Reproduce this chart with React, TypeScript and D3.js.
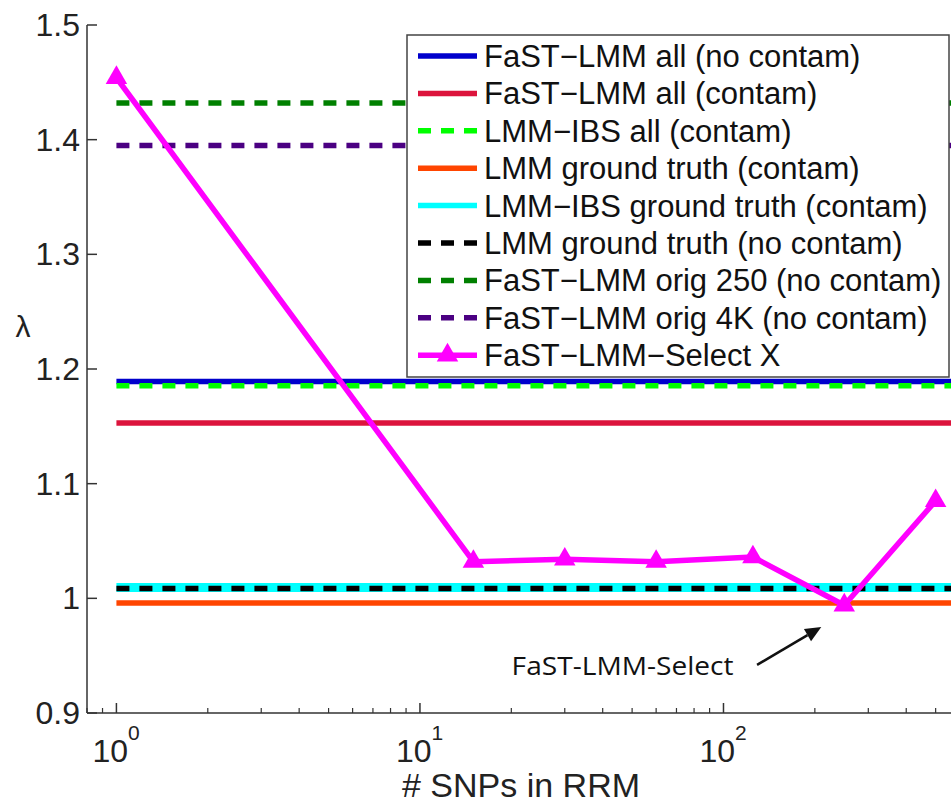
import React, { useEffect, useRef } from 'react';
import * as d3 from 'd3';

// reference lines (constant lambda), in legend order
const refNames = [
  'FaST−LMM all (no contam)',
  'FaST−LMM all (contam)',
  'LMM−IBS all (contam)',
  'LMM ground truth (contam)',
  'LMM−IBS ground truth (contam)',
  'LMM ground truth (no contam)',
  'FaST−LMM orig 250 (no contam)',
  'FaST−LMM orig 4K (no contam)',
];
const refValues = [1.189, 1.153, 1.1855, 0.996, 1.0095, 1.0085, 1.432, 1.395];
const refColors = ['#0000CC', '#DC143C', '#00FF00', '#FF4500', '#00FFFF', '#000000', '#008000', '#4B0082'];
const refDashed = [false, false, true, false, false, true, true, true];

// FaST-LMM-Select X
const selectName = 'FaST−LMM−Select X';
const snps = [1, 15, 30, 60, 125, 250, 500];
const lambdas = [1.454, 1.032, 1.034, 1.032, 1.036, 0.994, 1.085];

const yTicks = [0.9, 1, 1.1, 1.2, 1.3, 1.4, 1.5];
const xMajor = [1, 10, 100];

const App = () => {
  const svgRef = useRef<SVGSVGElement>(null);

  useEffect(() => {
    const width = 951;
    const height = 803;
    const svg = d3.select(svgRef.current);
    svg.selectAll('*').remove();

    const x = d3.scaleLog().domain([0.8, 700]).range([87, 980]);
    const y = d3.scaleLinear().domain([0.9, 1.5]).range([713, 25]);
    const font = 'Liberation Sans, Arial, sans-serif';

    // axes (left + bottom only, ticks inward)
    const axisColor = '#333';
    svg.append('line')
      .attr('x1', x(0.8)).attr('x2', x(0.8))
      .attr('y1', y(0.9)).attr('y2', y(1.5))
      .attr('stroke', axisColor).attr('stroke-width', 1.5);
    svg.append('line')
      .attr('x1', x(0.8)).attr('x2', width)
      .attr('y1', y(0.9)).attr('y2', y(0.9))
      .attr('stroke', axisColor).attr('stroke-width', 1.5);

    yTicks.forEach(t => {
      svg.append('line')
        .attr('x1', x(0.8)).attr('x2', x(0.8) + 10)
        .attr('y1', y(t)).attr('y2', y(t))
        .attr('stroke', axisColor).attr('stroke-width', 1.5);
      svg.append('text')
        .attr('x', x(0.8) - 7).attr('y', y(t) + 11)
        .attr('text-anchor', 'end')
        .attr('font-family', font).attr('font-size', 32)
        .attr('fill', '#222')
        .text(d3.format('~g')(t));
    });

    // x minor + major ticks
    const minor: number[] = [];
    [0.1, 1, 10, 100].forEach(dec => {
      for (let k = 2; k <= 9; k++) {
        const v = k * dec;
        if (v >= 0.8 && v <= 700) minor.push(v);
      }
    });
    minor.forEach(v => {
      svg.append('line')
        .attr('x1', x(v)).attr('x2', x(v))
        .attr('y1', y(0.9)).attr('y2', y(0.9) - 5)
        .attr('stroke', axisColor).attr('stroke-width', 1.2);
    });
    xMajor.forEach((v, i) => {
      svg.append('line')
        .attr('x1', x(v)).attr('x2', x(v))
        .attr('y1', y(0.9)).attr('y2', y(0.9) - 10)
        .attr('stroke', axisColor).attr('stroke-width', 1.5);
      const t = svg.append('text')
        .attr('x', x(v) - 24).attr('y', 762)
        .attr('font-family', font).attr('font-size', 32)
        .attr('fill', '#222');
      t.append('tspan').text('10');
      t.append('tspan').attr('dy', -22).attr('font-size', 21).text(String(i));
    });

    // axis labels
    svg.append('text')
      .attr('x', 521).attr('y', 797)
      .attr('text-anchor', 'middle')
      .attr('font-family', font).attr('font-size', 34)
      .attr('fill', '#222')
      .text('# SNPs in RRM');
    svg.append('text')
      .attr('x', 23).attr('y', 337)
      .attr('text-anchor', 'middle')
      .attr('font-family', font).attr('font-size', 30)
      .attr('fill', '#222')
      .text('λ');

    // constant reference lines
    refValues.forEach((v, i) => {
      svg.append('line')
        .attr('x1', x(1)).attr('x2', x(700))
        .attr('y1', y(v)).attr('y2', y(v))
        .attr('stroke', refColors[i])
        .attr('stroke-width', i === 4 ? 9 : 5.5)
        .attr('stroke-dasharray', refDashed[i] ? '13,10' : null);
    });

    // select X line
    const pts = snps.map((s, i) => [s, lambdas[i]] as [number, number]);
    const line = d3.line<[number, number]>().x(d => x(d[0])).y(d => y(d[1]));
    svg.append('path')
      .attr('d', line(pts))
      .attr('fill', 'none')
      .attr('stroke', '#FF00FF')
      .attr('stroke-width', 5.5)
      .attr('stroke-linejoin', 'round');
    const tri = d3.symbol().type(d3.symbolTriangle).size(200);
    svg.selectAll('.tri')
      .data(pts)
      .enter()
      .append('path')
      .attr('transform', d => `translate(${x(d[0])},${y(d[1])})`)
      .attr('d', tri())
      .attr('fill', '#FF00FF');

    // annotation
    svg.append('text')
      .attr('x', x(108)).attr('y', y(0.933))
      .attr('text-anchor', 'end')
      .attr('font-family', 'Open Sans, sans-serif').attr('font-size', 26)
      .attr('textLength', 222).attr('lengthAdjust', 'spacingAndGlyphs')
      .attr('fill', '#111')
      .text('FaST-LMM-Select');
    const ax1 = x(129), ay1 = y(0.942), ax2 = x(210), ay2 = y(0.975);
    const ang = Math.atan2(ay2 - ay1, ax2 - ax1);
    const hl = 16, hw = 7;
    const bx = ax2 - hl * Math.cos(ang), by = ay2 - hl * Math.sin(ang);
    svg.append('line')
      .attr('x1', ax1).attr('y1', ay1).attr('x2', bx).attr('y2', by)
      .attr('stroke', '#111').attr('stroke-width', 2.5);
    svg.append('path')
      .attr('d', `M${ax2},${ay2}L${bx - hw * Math.sin(ang)},${by + hw * Math.cos(ang)}L${bx + hw * Math.sin(ang)},${by - hw * Math.cos(ang)}Z`)
      .attr('fill', '#111');

    // legend
    const lg = svg.append('g');
    lg.append('rect')
      .attr('x', 407).attr('y', 35).attr('width', 542).attr('height', 342)
      .attr('fill', 'white').attr('stroke', '#444').attr('stroke-width', 1.5);
    const names = [...refNames, selectName];
    const colors = [...refColors, '#FF00FF'];
    const dashed = [...refDashed, false];
    names.forEach((n, i) => {
      const cy = 56 + i * 37.4;
      lg.append('line')
        .attr('x1', 418).attr('x2', 477)
        .attr('y1', cy).attr('y2', cy)
        .attr('stroke', colors[i]).attr('stroke-width', 5.5)
        .attr('stroke-dasharray', dashed[i] ? '13,10' : null);
      if (i === names.length - 1) {
        lg.append('path')
          .attr('transform', `translate(447.5,${cy})`)
          .attr('d', tri())
          .attr('fill', '#FF00FF');
      }
      lg.append('text')
        .attr('x', 484).attr('y', cy + 11)
        .attr('font-family', font).attr('font-size', 31)
        .attr('fill', '#111')
        .text(n);
    });

    svg.attr('width', width).attr('height', height);
  }, []);

  return (
    <div style={{ position: 'absolute', left: 0, top: 0, background: 'white' }}>
      <svg ref={svgRef} width={951} height={803} style={{ display: 'block', background: 'white' }} />
    </div>
  );
};

export default App;
